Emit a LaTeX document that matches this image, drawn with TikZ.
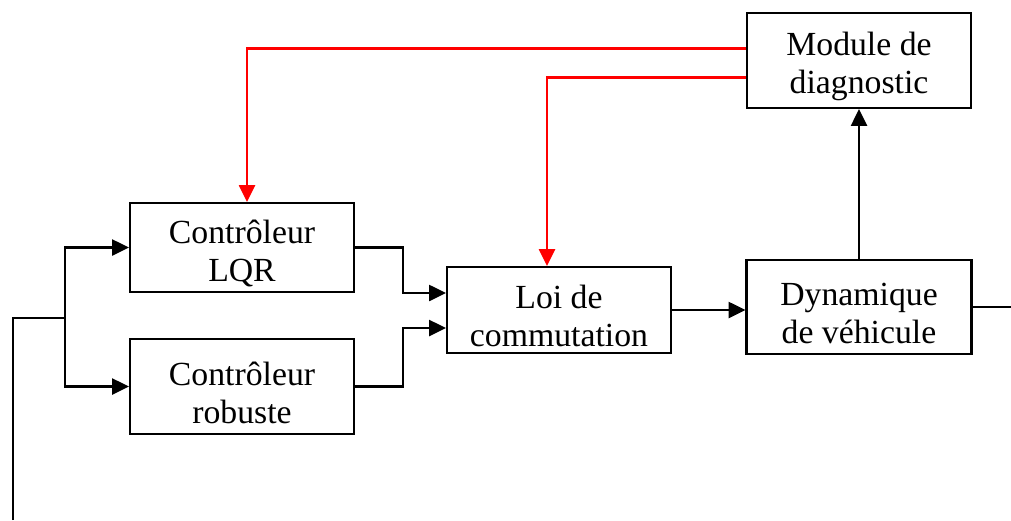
\documentclass[tikz,border=0pt]{standalone}
\usepackage{fontspec}
\setmainfont{Liberation Serif}
\usepackage{tikz}
\usetikzlibrary{arrows.meta}

\begin{document}
\begin{tikzpicture}[
        x=0.025cm, y=-0.025cm,
        box/.style = {draw, line width=1.5pt, minimum width=5.6cm, inner sep=0pt},
        txt/.style = {align=center, font=\fontsize{24}{27}\selectfont, yshift=-1.5mm},
        arr/.style = {line width=1.6pt, -{Triangle[length=4.2mm,width=4mm]}},
        redarr/.style = {arr, red},
        line width=1.6pt
    ]
        \useasboundingbox (0,0) rectangle (1011,520);
        % blocs
        \node[box, minimum height=2.225cm, label={[txt]center:Contrôleur\\LQR}] (lqr) at (242,247.5) {};
        \node[box, minimum height=2.375cm, label={[txt]center:Contrôleur\\robuste}] (rob) at (242,386.5) {};
        \node[box, minimum height=2.15cm, label={[txt]center:Loi de\\commutation}] (loi) at (559,310) {};
        \node[box, minimum width=5.625cm, minimum height=2.35cm, label={[txt]center:Dynamique\\de véhicule}] (dyn) at (859,307) {};
        \node[box, minimum height=2.375cm, label={[txt]center:Module de\\diagnostic}] (diag) at (859,60.5) {};
        \coordinate (fb) at (13,520);
        \coordinate (split) at (65,318);
        \coordinate (out) at (1011,307);
        % retour et branches
        \draw (fb) |- (split);
        \draw[arr] (split) |- (lqr.west);
        \draw[arr] (split) |- (rob.west);
        \draw[arr] (lqr.east) -- ++(48,0) |- ([yshift=4.25mm]loi.west);
        \draw[arr] (rob.east) -- ++(48,0) |- ([yshift=-4.5mm]loi.west);
        \draw[arr] (loi.east) -- (loi.east -| dyn.west);
        \draw (dyn.east) -- (out);
        \draw[arr] (dyn) -- (diag);
        % diagnostic
        \draw[redarr] ([yshift=3mm]diag.west) -| ([xshift=1.25mm]lqr.north);
        \draw[redarr] ([yshift=-4.25mm]diag.west) -| ([xshift=-3mm]loi.north);
    \end{tikzpicture}
\end{document}
